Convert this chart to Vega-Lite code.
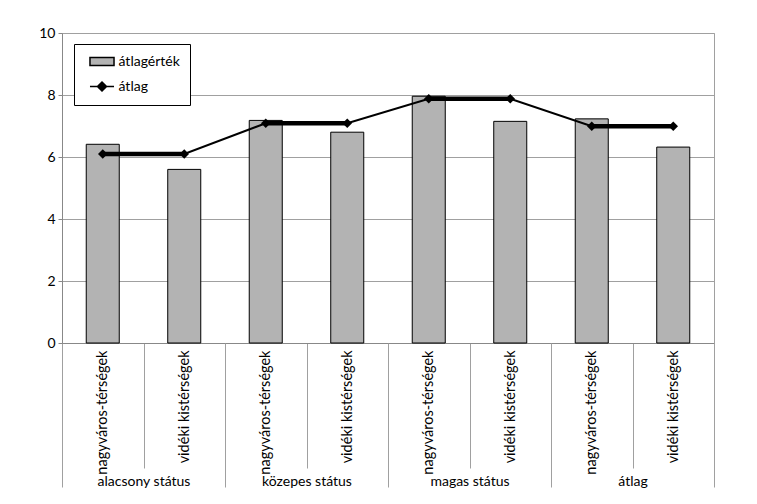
{
  "$schema": "https://vega.github.io/schema/vega-lite/v6.json",
  "width": 652,
  "height": 310,
  "autosize": {"type": "none"},
  "padding": {"left": 62, "top": 33, "right": 43, "bottom": 161},
  "background": "white",
  "config": {
    "view": {"stroke": "#a0a0a0"},
    "font": "Lato",
    "legend": {
      "title": null, "orient": "none", "legendX": 12, "legendY": 11,
      "direction": "vertical", "fillColor": "white", "strokeColor": "black",
      "padding": 10, "symbolOffset": 10.5, "symbolSize": 169,
      "symbolStrokeWidth": 1.5, "symbolOpacity": 1,
      "labelFontSize": 14, "labelColor": "black", "labelOffset": 9, "rowPadding": 9
    }
  },
  "data": {
    "values": [
      {"group": "alacsony státus", "sub": "nagyváros-térségek", "key": "alacsony státus|nagyváros-térségek", "value": 6.41, "avg": 6.10},
      {"group": "alacsony státus", "sub": "vidéki kistérségek", "key": "alacsony státus|vidéki kistérségek", "value": 5.60, "avg": 6.10},
      {"group": "közepes státus", "sub": "nagyváros-térségek", "key": "közepes státus|nagyváros-térségek", "value": 7.18, "avg": 7.09},
      {"group": "közepes státus", "sub": "vidéki kistérségek", "key": "közepes státus|vidéki kistérségek", "value": 6.80, "avg": 7.09},
      {"group": "magas státus", "sub": "nagyváros-térségek", "key": "magas státus|nagyváros-térségek", "value": 7.96, "avg": 7.88},
      {"group": "magas státus", "sub": "vidéki kistérségek", "key": "magas státus|vidéki kistérségek", "value": 7.15, "avg": 7.88},
      {"group": "átlag", "sub": "nagyváros-térségek", "key": "átlag|nagyváros-térségek", "value": 7.23, "avg": 6.99},
      {"group": "átlag", "sub": "vidéki kistérségek", "key": "átlag|vidéki kistérségek", "value": 6.32, "avg": 6.99}
    ]
  },
  "layer": [
    {
      "encoding": {
        "x": {
          "field": "key", "type": "nominal", "sort": null,
          "scale": {"paddingInner": 0, "paddingOuter": 0},
          "axis": {
            "title": null,
            "labelExpr": "split(datum.label, '|')[1]",
            "labelAngle": -90, "labelAlign": "right", "labelBaseline": "middle",
            "tickBand": "extent", "tickSize": 125, "tickColor": "#a0a0a0",
            "domainColor": "#888888", "labelPadding": -118, "labelFontSize": 14.5,
            "labelColor": "black", "grid": false, "labelOverlap": false
          }
        }
      },
      "layer": [
        {
          "mark": {"type": "bar", "width": {"band": 0.405}, "stroke": "black", "strokeWidth": 1},
          "encoding": {
            "y": {"field": "value", "type": "quantitative",
              "scale": {"domain": [0, 10], "nice": false},
              "axis": {"title": null, "values": [0, 2, 4, 6, 8, 10], "grid": true, "gridColor": "#a0a0a0",
                "tickSize": 4, "tickColor": "#888888", "domainColor": "#888888",
                "labelFontSize": 14, "labelPadding": 3, "labelColor": "black"}},
            "color": {
              "datum": "átlagérték",
              "scale": {"domain": ["átlagérték", "átlag"], "range": ["#b3b3b3", "black"]}
            }
          }
        },
        {
          "mark": {"type": "line", "strokeWidth": 2, "color": "black"},
          "encoding": {
            "y": {"field": "avg", "type": "quantitative"}
          }
        },
        {
          "mark": {"type": "line", "strokeWidth": 4.5, "color": "black"},
          "encoding": {
            "y": {"field": "avg", "type": "quantitative"},
            "detail": {"field": "group"}
          }
        },
        {
          "mark": {"type": "point", "shape": "diamond", "filled": true, "size": 90, "opacity": 1, "color": "black"},
          "encoding": {
            "y": {"field": "avg", "type": "quantitative"}
          }
        },
        {
          "mark": {"type": "point", "filled": true, "size": 0, "stroke": "black", "strokeWidth": 1.5, "strokeCap": "butt"},
          "encoding": {
            "y": {"field": "avg", "type": "quantitative"},
            "color": {"datum": "átlag"},
            "shape": {
              "datum": "átlag",
              "scale": {"domain": ["átlagérték", "átlag"],
                "range": ["M-1.85,-0.62H1.85V0.62H-1.85Z", "M-1.85,0H1.85M-0.7,0L0,-0.7L0.7,0L0,0.7Z"]}
            }
          }
        }
      ]
    },
    {
      "mark": {"type": "rule", "opacity": 0},
      "encoding": {
        "x": {
          "field": "group", "type": "nominal", "sort": null,
          "scale": {"paddingInner": 0, "paddingOuter": 0},
          "axis": {
            "title": null, "orient": "bottom", "domain": false,
            "tickBand": "extent", "tickSize": 144, "tickColor": "#a0a0a0",
            "labelPadding": -13, "labelAngle": 0, "labelFontSize": 14,
            "labelBaseline": "top", "labelColor": "black", "grid": false
          }
        }
      }
    }
  ],
  "resolve": {"scale": {"x": "independent"}, "axis": {"x": "independent"}}
}
